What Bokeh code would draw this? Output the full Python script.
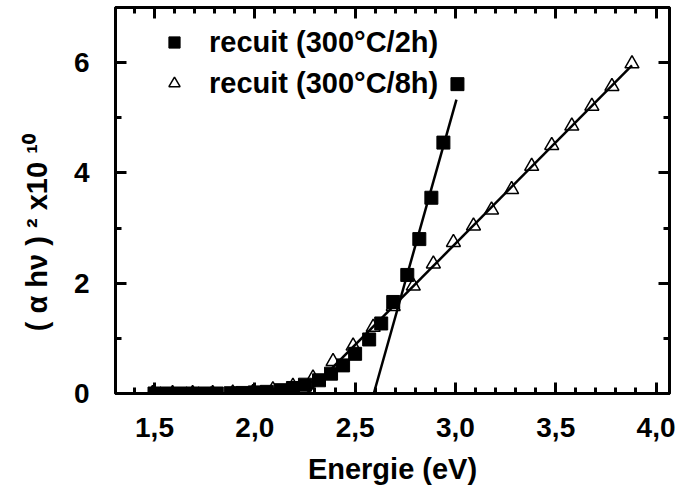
from bokeh.plotting import figure
from bokeh.models import (LinearAxis, FixedTicker, Legend, LegendItem,
                          Range1d, CustomJSTickFormatter)
from bokeh.embed import file_html
from bokeh.resources import INLINE

# ---- data ----
energie_2h = [1.50, 1.56, 1.63, 1.69, 1.75, 1.81, 1.88, 1.94, 2.00, 2.06, 2.13, 2.19,
              2.25, 2.32, 2.38, 2.44, 2.50, 2.57, 2.63, 2.69, 2.76, 2.82, 2.88, 2.94, 3.01]
alpha_2h = [0.0, 0.0, 0.0, 0.0, 0.0, 0.0, 0.005, 0.01, 0.02, 0.03, 0.06, 0.10,
            0.16, 0.24, 0.36, 0.51, 0.72, 0.98, 1.27, 1.66, 2.15, 2.80, 3.55, 4.55, 5.61]

energie_8h = [1.49, 1.59, 1.69, 1.79, 1.89, 1.99, 2.09, 2.19, 2.29, 2.39, 2.49, 2.59,
              2.69, 2.79, 2.89, 2.99, 3.09, 3.18, 3.28, 3.38, 3.48, 3.58, 3.68, 3.78, 3.88]
alpha_8h = [0.0, 0.0, 0.0, 0.0, 0.01, 0.02, 0.07, 0.13, 0.28, 0.58, 0.86, 1.20,
            1.58, 1.95, 2.35, 2.74, 3.04, 3.33, 3.70, 4.12, 4.50, 4.85, 5.21, 5.57, 5.98]

fit_2h_x = [2.593, 3.005]
fit_2h_y = [0.0, 5.33]
fit_8h_x = [2.26, 3.88]
fit_8h_y = [0.0, 5.95]

x_major = [1.5, 2.0, 2.5, 3.0, 3.5, 4.0]
x_minor = [round(1.4 + 0.1 * i, 1) for i in range(27)]
y_major = [0, 2, 4, 6]
y_minor = [1, 3, 5]

series_labels = ["recuit (300°C/2h)", "recuit (300°C/8h)"]
x_title = "Energie (eV)"
y_title = "( α hν ) ² x10 ¹⁰"

FONT = "Liberation Sans"

p = figure(width=677, height=494, x_range=Range1d(1.3056, 4.067), y_range=Range1d(0, 7.0),
           output_backend="svg", toolbar_location=None,
           min_border_left=115, min_border_right=8, min_border_top=7, min_border_bottom=101)
p.grid.visible = False
p.outline_line_color = "black"
p.outline_line_width = 3
p.background_fill_color = "white"
p.border_fill_color = "white"

xt = FixedTicker(ticks=x_major, minor_ticks=x_minor)
yt = FixedTicker(ticks=y_major, minor_ticks=y_minor)


def style_axis(ax):
    ax.axis_line_width = 3
    ax.axis_line_color = "black"
    ax.major_tick_in = 11
    ax.major_tick_out = 0
    ax.minor_tick_in = 6
    ax.minor_tick_out = 0
    ax.major_tick_line_width = 3
    ax.minor_tick_line_width = 3
    ax.major_tick_line_color = "black"
    ax.minor_tick_line_color = "black"
    ax.major_label_text_font = FONT
    ax.major_label_text_font_style = "bold"
    ax.major_label_text_color = "black"
    ax.axis_label_text_font = FONT
    ax.axis_label_text_font_style = "bold"
    ax.axis_label_text_color = "black"


xa = p.xaxis[0]
xa.ticker = xt
xa.formatter = CustomJSTickFormatter(code="return tick.toFixed(1).replace('.', ',');")
style_axis(xa)
xa.major_label_text_font_size = "28px"
xa.major_label_standoff = 24
xa.axis_label = x_title
xa.axis_label_text_font_size = "29px"
xa.axis_label_standoff = 13

ya = p.yaxis[0]
ya.ticker = yt
style_axis(ya)
ya.major_label_text_font_size = "28px"
ya.major_label_standoff = 26
# trailing no-break spaces shift the centred title toward the bottom, as in the original
ya.axis_label = y_title + "\u00a0" * 8
ya.axis_label_text_font_size = "29px"
ya.axis_label_standoff = 18

for side in ["above", "right"]:
    ax = LinearAxis(ticker=xt if side == "above" else yt)
    style_axis(ax)
    ax.major_label_text_color = None
    ax.major_label_text_font_size = "1px"
    ax.major_label_standoff = 0
    p.add_layout(ax, side)

# data
tri = p.scatter(energie_8h, alpha_8h, marker="triangle", size=14, fill_color="white",
                line_color="black", line_width=1.5)
sq = p.scatter(energie_2h, alpha_2h, marker="square", size=13, fill_color="black",
               line_color="black", line_width=1)
p.line(fit_8h_x, fit_8h_y, line_color="black", line_width=2.5)
p.line(fit_2h_x, fit_2h_y, line_color="black", line_width=2.5)

legend = Legend(items=[LegendItem(label=series_labels[0], renderers=[sq]),
                       LegendItem(label=series_labels[1], renderers=[tri])],
                location=(45, 293), padding=0, margin=0, spacing=7,
                glyph_width=28, glyph_height=34, label_standoff=21,
                border_line_color=None, background_fill_alpha=0,
                label_text_font=FONT, label_text_font_style="bold",
                label_text_font_size="29px", label_text_color="black")
p.add_layout(legend)

open("out.html", "w").write(file_html(p, INLINE))
